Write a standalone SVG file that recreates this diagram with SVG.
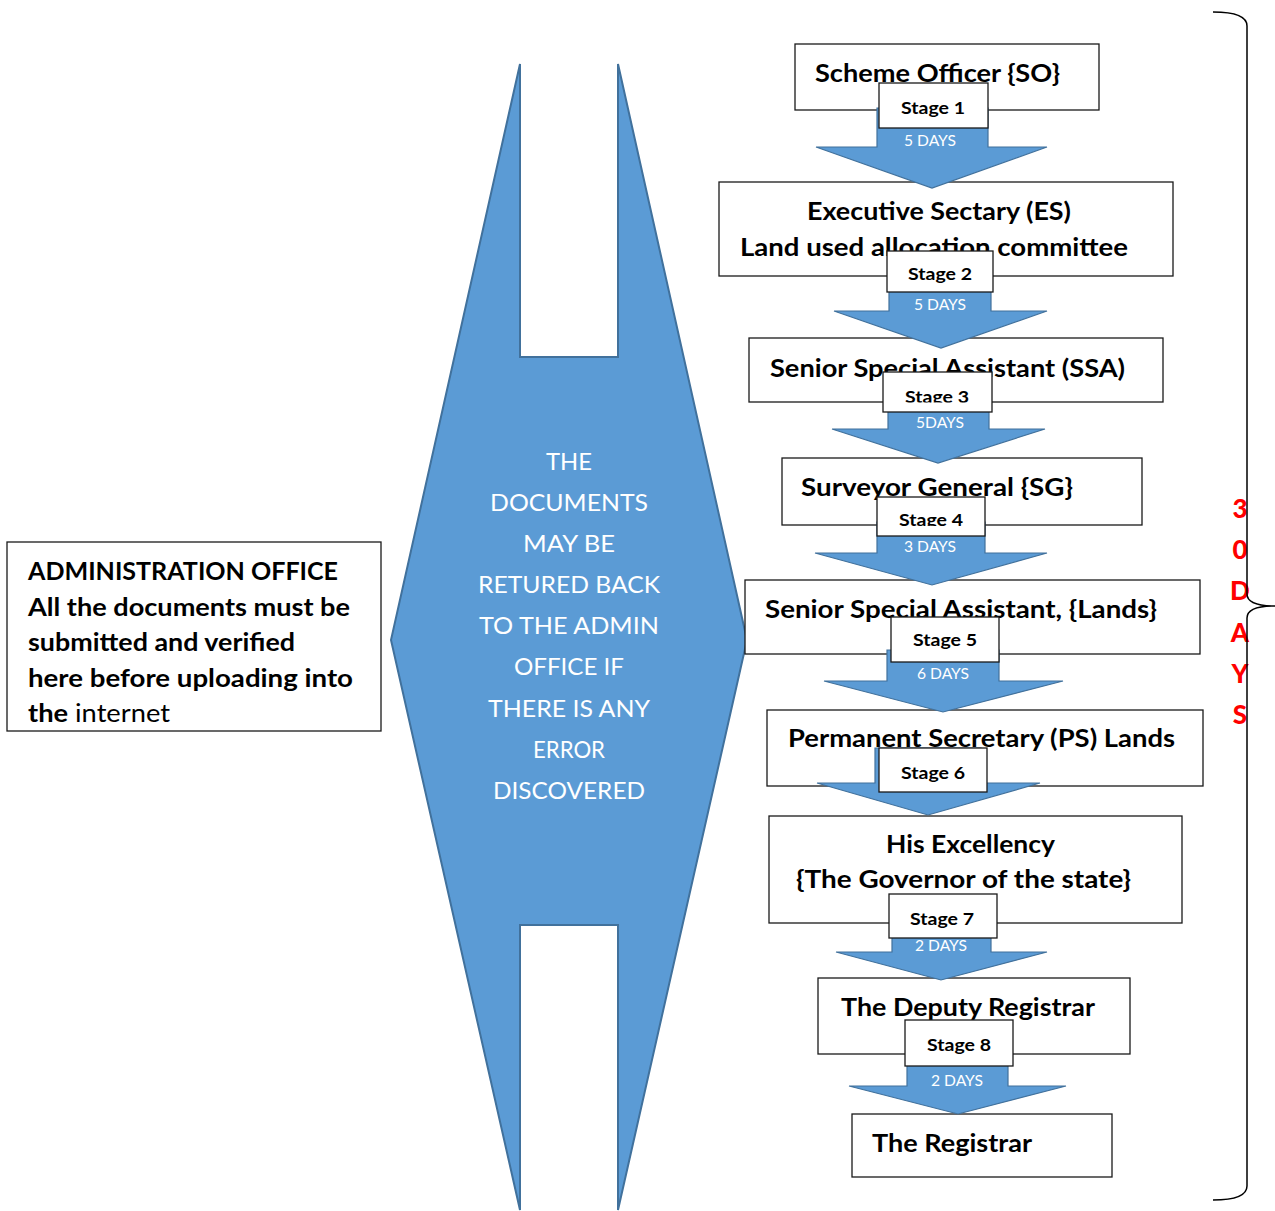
<svg xmlns="http://www.w3.org/2000/svg" width="1275" height="1211" viewBox="0 0 1275 1211">
<style>
.box{fill:#fff;stroke:#1a1a1a;stroke-width:1.3}
.title{font-family:Lato,"Liberation Sans",sans-serif;font-weight:bold;font-size:25px;fill:#000}
.stg{font-family:Lato,"Liberation Sans",sans-serif;font-weight:bold;font-size:17px;fill:#000;text-anchor:middle}
.days{font-family:Lato,"Liberation Sans",sans-serif;font-size:15.5px;fill:#fff;text-anchor:middle}
.arrow{fill:#5B9BD5;stroke:#41719C;stroke-width:1.2}
.mid{font-family:Lato,"Liberation Sans",sans-serif;font-size:24px;fill:#fff;text-anchor:middle}
.red{font-family:Lato,"Liberation Sans",sans-serif;font-weight:900;font-size:26px;fill:#ff0000;text-anchor:middle}
</style>
<defs>
<clipPath id="c2"><rect x="887" y="251" width="106" height="32"/></clipPath>
<clipPath id="c3"><rect x="883" y="372" width="109" height="30.5"/></clipPath>
<clipPath id="c4"><rect x="877" y="497" width="108" height="29"/></clipPath>
<clipPath id="c7"><rect x="889" y="894" width="108" height="34"/></clipPath>
</defs>
<rect width="1275" height="1211" fill="#fff"/>

<g id="return-arrow">
<polygon points="520,64 520,357 618,357 618,64 747,640 618,1210 618,925 520,925 520,1210 391,640" fill="#5B9BD5" stroke="#41719C" stroke-width="2"/>
<text class="mid" x="569" y="470" textLength="46" lengthAdjust="spacingAndGlyphs">THE</text>
<text class="mid" x="569" y="511" textLength="158" lengthAdjust="spacingAndGlyphs">DOCUMENTS</text>
<text class="mid" x="569" y="552" textLength="92" lengthAdjust="spacingAndGlyphs">MAY BE</text>
<text class="mid" x="569" y="593" textLength="182" lengthAdjust="spacingAndGlyphs">RETURED BACK</text>
<text class="mid" x="569" y="634" textLength="180" lengthAdjust="spacingAndGlyphs">TO THE ADMIN</text>
<text class="mid" x="569" y="675" textLength="110" lengthAdjust="spacingAndGlyphs">OFFICE IF</text>
<text class="mid" x="569" y="717" textLength="162" lengthAdjust="spacingAndGlyphs">THERE IS ANY</text>
<text class="mid" x="569" y="758" textLength="72" lengthAdjust="spacingAndGlyphs">ERROR</text>
<text class="mid" x="569" y="799" textLength="152" lengthAdjust="spacingAndGlyphs">DISCOVERED</text>
</g>

<g id="admin-office">
<rect class="box" x="7" y="542" width="374" height="189"/>
<text class="title" x="28" y="580" textLength="310" lengthAdjust="spacingAndGlyphs">ADMINISTRATION OFFICE</text>
<text class="title" x="28" y="616" textLength="322" lengthAdjust="spacingAndGlyphs">All the documents must be</text>
<text class="title" x="28" y="651" textLength="267" lengthAdjust="spacingAndGlyphs">submitted and verified</text>
<text class="title" x="28" y="687" textLength="325" lengthAdjust="spacingAndGlyphs">here before uploading into</text>
<text class="title" x="28" y="722" textLength="142" lengthAdjust="spacingAndGlyphs">the<tspan font-weight="normal"> internet</tspan></text>
</g>

<g id="node-so">
<rect class="box" x="795" y="44" width="304" height="66"/>
<text class="title" x="815" y="82" textLength="245" lengthAdjust="spacingAndGlyphs">Scheme Officer {SO}</text>
</g>
<g id="node-es">
<rect class="box" x="719" y="182" width="454" height="94"/>
<text class="title" x="807" y="220" textLength="264" lengthAdjust="spacingAndGlyphs">Executive Sectary (ES)</text>
<text class="title" x="740" y="256" textLength="388" lengthAdjust="spacingAndGlyphs">Land used allocation committee</text>
</g>
<g id="node-ssa">
<rect class="box" x="749" y="338" width="414" height="64"/>
<text class="title" x="770" y="377" textLength="355" lengthAdjust="spacingAndGlyphs">Senior Special Assistant (SSA)</text>
</g>
<g id="node-sg">
<rect class="box" x="782" y="458" width="360" height="67"/>
<text class="title" x="801" y="496" textLength="272" lengthAdjust="spacingAndGlyphs">Surveyor General {SG}</text>
</g>
<g id="node-ssa-lands">
<rect class="box" x="745" y="580" width="455" height="74"/>
<text class="title" x="765" y="618" textLength="392" lengthAdjust="spacingAndGlyphs">Senior Special Assistant, {Lands}</text>
</g>
<g id="node-ps">
<rect class="box" x="767" y="710" width="436" height="76"/>
<text class="title" x="788" y="747" textLength="387" lengthAdjust="spacingAndGlyphs">Permanent Secretary (PS) Lands</text>
</g>
<g id="node-governor">
<rect class="box" x="769" y="816" width="413" height="107"/>
<text class="title" x="886" y="853" textLength="169" lengthAdjust="spacingAndGlyphs">His Excellency</text>
<text class="title" x="796" y="888" textLength="335" lengthAdjust="spacingAndGlyphs">{The Governor of the state}</text>
</g>
<g id="node-deputy">
<rect class="box" x="818" y="978" width="312" height="76"/>
<text class="title" x="841" y="1016" textLength="254" lengthAdjust="spacingAndGlyphs">The Deputy Registrar</text>
</g>
<g id="node-registrar">
<rect class="box" x="852" y="1114" width="260" height="63"/>
<text class="title" x="872" y="1152" textLength="160" lengthAdjust="spacingAndGlyphs">The Registrar</text>
</g>

<g id="connectors">
<polygon class="arrow" points="877,108 988,108 988,147 1047,147 932,188 816,147 877,147"/>
<polygon class="arrow" points="889,280 991,280 991,311 1047,311 941,348 834,311 889,311"/>
<polygon class="arrow" points="888,405 989,405 989,429 1045,429 938,463 832,429 888,429"/>
<polygon class="arrow" points="877,522 985,522 985,553 1047,553 932,585 815,553 877,553"/>
<polygon class="arrow" points="887,650 999,650 999,681 1063,681 943,712 824,681 887,681"/>
<polygon class="arrow" points="875,748 981,748 981,783 1040,783 928,815 817,783 875,783"/>
<polygon class="arrow" points="892,920 991,920 991,952 1047,952 941,980 836,952 892,952"/>
<polygon class="arrow" points="907,1050 1008,1050 1008,1086 1066,1086 958,1114 849,1086 907,1086"/>
<text class="days" x="930" y="146" textLength="52" lengthAdjust="spacingAndGlyphs">5 DAYS</text>
<text class="days" x="940" y="310" textLength="52" lengthAdjust="spacingAndGlyphs">5 DAYS</text>
<text class="days" x="940" y="428" textLength="48" lengthAdjust="spacingAndGlyphs">5DAYS</text>
<text class="days" x="930" y="552" textLength="52" lengthAdjust="spacingAndGlyphs">3 DAYS</text>
<text class="days" x="943" y="679" textLength="52" lengthAdjust="spacingAndGlyphs">6 DAYS</text>
<text class="days" x="941" y="951" textLength="52" lengthAdjust="spacingAndGlyphs">2 DAYS</text>
<text class="days" x="957" y="1086" textLength="52" lengthAdjust="spacingAndGlyphs">2 DAYS</text>
</g>

<g id="stage-labels">
<rect class="box" x="879" y="83" width="109" height="45"/>
<text class="stg" x="933" y="114" textLength="64" lengthAdjust="spacingAndGlyphs">Stage 1</text>
<rect class="box" x="887" y="251" width="106" height="41"/>
<text class="stg" x="940" y="280" textLength="64" lengthAdjust="spacingAndGlyphs" clip-path="url(#c2)">Stage 2</text>
<rect class="box" x="883" y="372" width="109" height="40"/>
<text class="stg" x="937" y="403" textLength="64" lengthAdjust="spacingAndGlyphs" clip-path="url(#c3)">Stage 3</text>
<rect class="box" x="877" y="497" width="108" height="39"/>
<text class="stg" x="931" y="526" textLength="64" lengthAdjust="spacingAndGlyphs" clip-path="url(#c4)">Stage 4</text>
<rect class="box" x="891" y="617" width="108" height="45"/>
<text class="stg" x="945" y="646" textLength="64" lengthAdjust="spacingAndGlyphs">Stage 5</text>
<rect class="box" x="879" y="748" width="108" height="44"/>
<text class="stg" x="933" y="779" textLength="64" lengthAdjust="spacingAndGlyphs">Stage 6</text>
<rect class="box" x="889" y="894" width="108" height="44"/>
<text class="stg" x="942" y="925" textLength="64" lengthAdjust="spacingAndGlyphs" clip-path="url(#c7)">Stage 7</text>
<rect class="box" x="905" y="1020" width="108" height="46"/>
<text class="stg" x="959" y="1051" textLength="64" lengthAdjust="spacingAndGlyphs">Stage 8</text>
</g>

<g id="total-days">
<text class="red" x="1240" y="518">3</text>
<text class="red" x="1240" y="559">0</text>
<text class="red" x="1240" y="600">D</text>
<text class="red" x="1240" y="642">A</text>
<text class="red" x="1240" y="683">Y</text>
<text class="red" x="1240" y="724">S</text>
<path d="M1213,12 Q1247,12 1247,26 L1247,594 Q1247,606 1275,606 Q1247,606 1247,618 L1247,1186 Q1247,1200 1213,1200" fill="none" stroke="#000" stroke-width="1.5"/>
</g>
</svg>
